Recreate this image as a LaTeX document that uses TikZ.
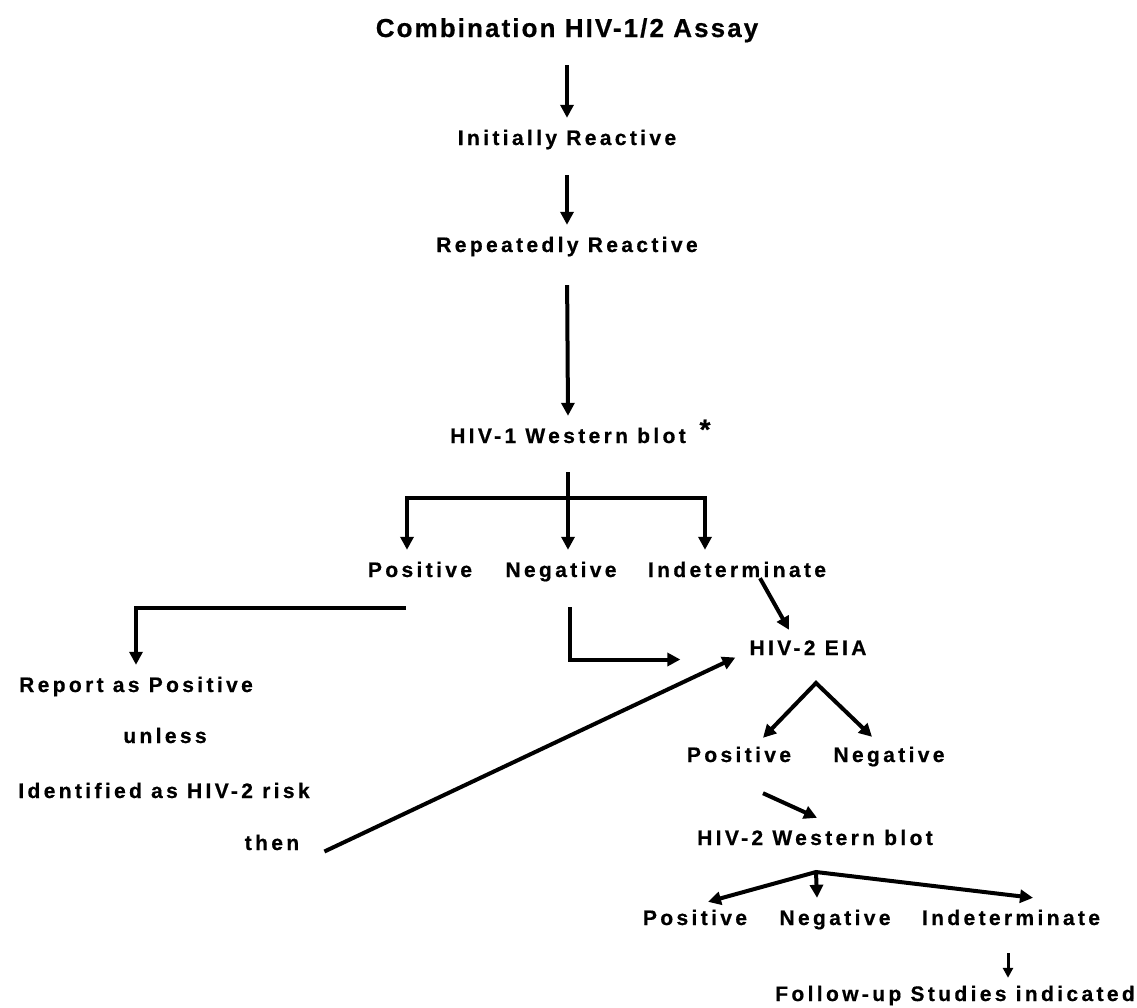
\documentclass[tikz,border=0pt]{standalone}
\usepackage{fontspec}
\setmainfont{Liberation Sans}[LetterSpace=16, BoldFeatures={FakeBold=0.6}]
\usetikzlibrary{arrows.meta}

\tikzset{
  lbl/.style={font=\fontsize{21}{25}\selectfont\bfseries, anchor=base, inner xsep=0pt, inner ysep=11pt, text height=16pt, text depth=5pt},
  hd/.style={font=\fontsize{26}{31}\selectfont\bfseries\addfontfeatures{LetterSpace=8}, anchor=base, inner xsep=0pt, inner ysep=11pt, text height=19pt, text depth=5pt},
  ln/.style={line width=4pt},
  arr/.style={line width=4pt, -{Triangle[width=13pt,length=13pt]}},
  arrs/.style={line width=4pt, {Triangle[width=13pt,length=13pt]}-{Triangle[width=13pt,length=13pt]}},
  arrsm/.style={line width=3pt, -{Triangle[width=10pt,length=10pt]}},
}

\begin{document}
\begin{tikzpicture}[x=1pt,y=1pt,yscale=-1]
\useasboundingbox (0,0) rectangle (1137,1007);

% Text Node
\node [hd] (title) at (567,37) {Combination HIV-1/2 Assay};
% Text Node
\node [lbl] (init) at (567,145) {Initially Reactive};
% Text Node
\node [lbl] (rep) at (567,252) {Repeatedly Reactive};
% Text Node
\node [lbl] (wb1) at (568,443) {HIV-1 Western blot};
\node [lbl, inner ysep=0pt, font=\fontsize{28}{32}\selectfont\bfseries] (star) at (705,439) {*};
% Text Node
\node [lbl] (pos1) at (420,577) {Positive};
\node [lbl] (neg1) at (561,577) {Negative};
\node [lbl] (ind1) at (737,577) {Indeterminate};
% Text Node
\node [lbl] (rpt) at (136,692) {Report as Positive};
\node [lbl] (unl) at (165,743) {unless};
\node [lbl] (idf) at (164,798) {Identified as HIV-2 risk};
\node [lbl] (thn) at (272,850) {then};
% Text Node
\node [lbl] (eia) at (808,655) {HIV-2 EIA};
\node [lbl] (pos2) at (739,762) {Positive};
\node [lbl] (neg2) at (889,762) {Negative};
% Text Node
\node [lbl] (wb2) at (815,845) {HIV-2 Western blot};
\node [lbl] (pos3) at (695,925) {Positive};
\node [lbl] (neg3) at (835,925) {Negative};
\node [lbl] (ind3) at (1011,925) {Indeterminate};
\node [lbl] (fol) at (955,1001) {Follow-up Studies indicated};

\coordinate (split1) at (568,498);
\coordinate (split2) at (816,683);
\coordinate (split3) at (816,872);

%Straight Lines
\draw [arr, shorten <=12pt] (title.south) -- (init.north);
\draw [arr, shorten <=14pt] (init.south) -- (rep.north);
\draw [arr, shorten <=17pt] (rep.south) -- (wb1.north);
%Straight Lines
\draw [arr, shorten <=13pt] (wb1.south) -- (wb1.south |- neg1.north);
\draw [arr] (split1) -| ([xshift=-13pt]pos1.north);
\draw [arr] (split1) -| ([xshift=-32pt]ind1.north);
%Straight Lines
\draw [arr] ([xshift=-14pt,yshift=15pt]pos1.south) -| (rpt.north);
\draw [arr] ([xshift=9pt,yshift=14pt]neg1.south) |- ([xshift=-69pt,yshift=10pt]eia.west);
\draw [arr] ([xshift=23pt,yshift=-15pt]ind1.south) -- ([xshift=-19pt,yshift=2pt]eia.north);
\draw [arr] ([xshift=25pt,yshift=7pt]thn.east) -- ([xshift=-14pt,yshift=8pt]eia.west);
%Straight Lines
\draw [arrs] ([xshift=24pt,yshift=3pt]pos2.north) -- (split2) -- ([xshift=-17pt,yshift=2pt]neg2.north);
\draw [arr] ([xshift=24pt,yshift=15pt]pos2.south) -- ([xshift=2pt]wb2.north);
%Straight Lines
\draw [arrs] ([xshift=13pt,yshift=4pt]pos3.north) -- (split3) -- ([xshift=22pt]ind3.north);
\draw [arr] (split3) -- ([xshift=-18pt]neg3.north);
\draw [arrsm] ([xshift=-3pt,yshift=12pt]ind3.south) -- ([xshift=53pt,yshift=4pt]fol.north);

\end{tikzpicture}
\end{document}
